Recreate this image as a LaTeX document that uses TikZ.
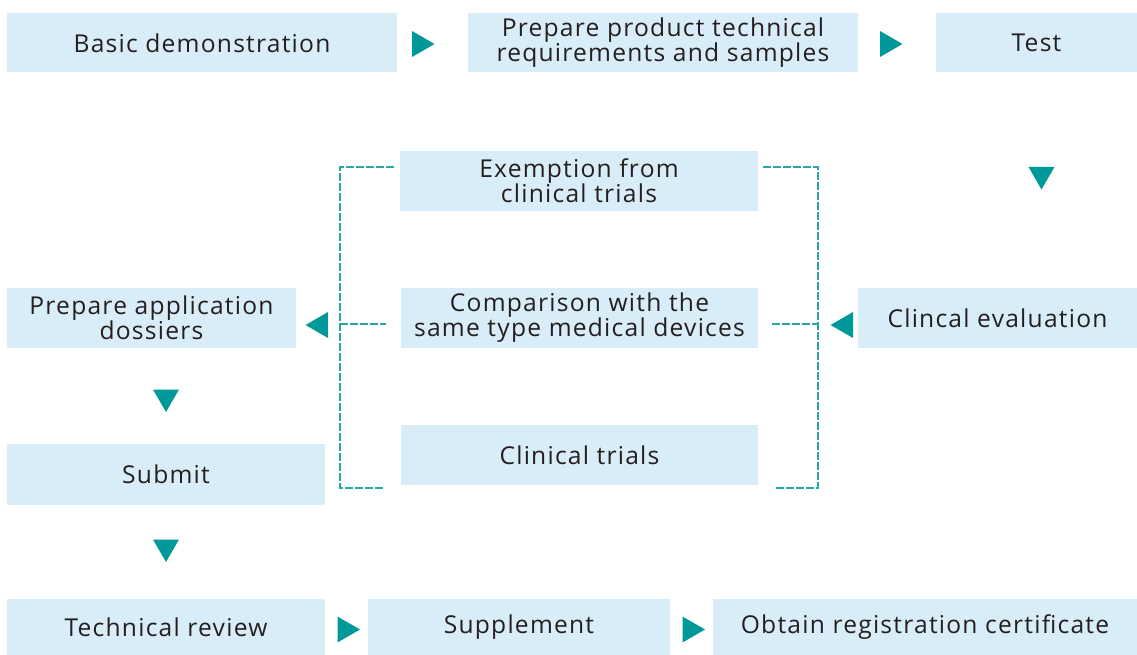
\documentclass[tikz,border=0pt]{standalone}
\usepackage{fontspec}
\setmainfont[LetterSpace=5]{Open Sans}
\usetikzlibrary{shapes.geometric}

\definecolor{boxblue}{HTML}{D9EDF8}
\definecolor{marker}{HTML}{009999}
\definecolor{bracket}{HTML}{2AA6A6}
\definecolor{ink}{HTML}{231F20}

\tikzset{
	stepbox/.style={fill=boxblue, inner sep=0pt, align=center, text=ink,
		font=\fontsize{24.6}{25}\selectfont},
	tri/.style={regular polygon, regular polygon sides=3, fill=marker,
		inner sep=0pt, minimum size=30pt},
	tri right/.style={tri, shape border rotate=-90},
	tri left/.style={tri, shape border rotate=90},
	tri down/.style={tri, shape border rotate=180},
	bracket line/.style={draw=bracket, line width=1.3pt, dash pattern=on 8pt off 2pt}
}

\begin{document}
\begin{tikzpicture}[x=1pt, y=-1pt]

	\useasboundingbox (0,0) rectangle (1137,655);

	% Top row.
	\node[stepbox, minimum width=390pt, minimum height=59pt]    (demo) at  (202,43) {Basic demonstration};
	\node[stepbox, minimum width=390pt, minimum height=59pt]    (prep) at  (663,42.5) {Prepare product technical\\requirements and samples};
	\node[stepbox, minimum width=201pt, minimum height=59pt]    (test) at (1036.5,43) {Test};

	% Middle options.
	\node[stepbox, minimum width=358pt, minimum height=60pt]  (exempt) at  (579,181) {Exemption from\\clinical trials};
	\node[stepbox, minimum width=357pt, minimum height=60pt] (compare) at (579.5,318) {Comparison with the\\same type medical devices};
	\node[stepbox, minimum width=357pt, minimum height=60pt]  (trials) at (579.5,455) {Clinical trials};
	\node[stepbox, minimum width=279pt, minimum height=60pt]    (eval) at (997.5,318) {Clincal evaluation};

	% Left column.
	\node[stepbox, minimum width=289pt, minimum height=60pt] (dossier) at (151.5,318) {Prepare application\\dossiers};
	\node[stepbox, minimum width=318pt, minimum height=61pt]  (submit) at  (166,474) {Submit};

	% Bottom row.
	\node[stepbox, minimum width=318pt, minimum height=56pt]  (review) at  (166,627) {Technical review};
	\node[stepbox, minimum width=302pt, minimum height=56pt]    (supp) at  (519,627) {Supplement};
	\node[stepbox, minimum width=424pt, minimum height=56pt]  (obtain) at  (925,627) {Obtain registration certificate};

	% Markers.
	\node[tri right]    (demo_prep) at  (419.5,44) {};
	\node[tri right]    (prep_test) at  (887.5,44) {};
	\node[tri down]     (test_eval) at (1041.5,174.5) {};
	\node[tri left]    (eval_brack) at  (845.5,325) {};
	\node[tri left]    (brack_doss) at  (320.5,325) {};
	\node[tri down]   (doss_submit) at  (166,397) {};
	\node[tri down] (submit_review) at  (166,547) {};
	\node[tri right]  (review_supp) at  (345,629.5) {};
	\node[tri right]  (supp_obtain) at  (690,629.5) {};

	% Bracket coordinates.
	\coordinate (l_spine) at (340,324);
	\coordinate   (l_top) at (394,167);
	\coordinate   (l_mid) at (386,324);
	\coordinate   (l_bot) at (383,488);
	\coordinate (r_spine) at (818,324);
	\coordinate   (r_top) at (763,167);
	\coordinate   (r_mid) at (772,324);
	\coordinate   (r_bot) at (774,488);

	% Brackets.
	\draw[bracket line] (l_top) -- (l_top -| l_spine) -- (l_bot -| l_spine) -- (l_bot);
	\draw[bracket line] (l_spine) -- (l_mid);
	\draw[bracket line] (r_top) -- (r_top -| r_spine) -- (r_bot -| r_spine) -- (r_bot);
	\draw[bracket line] (r_mid) -- (r_spine);

\end{tikzpicture}
\end{document}
